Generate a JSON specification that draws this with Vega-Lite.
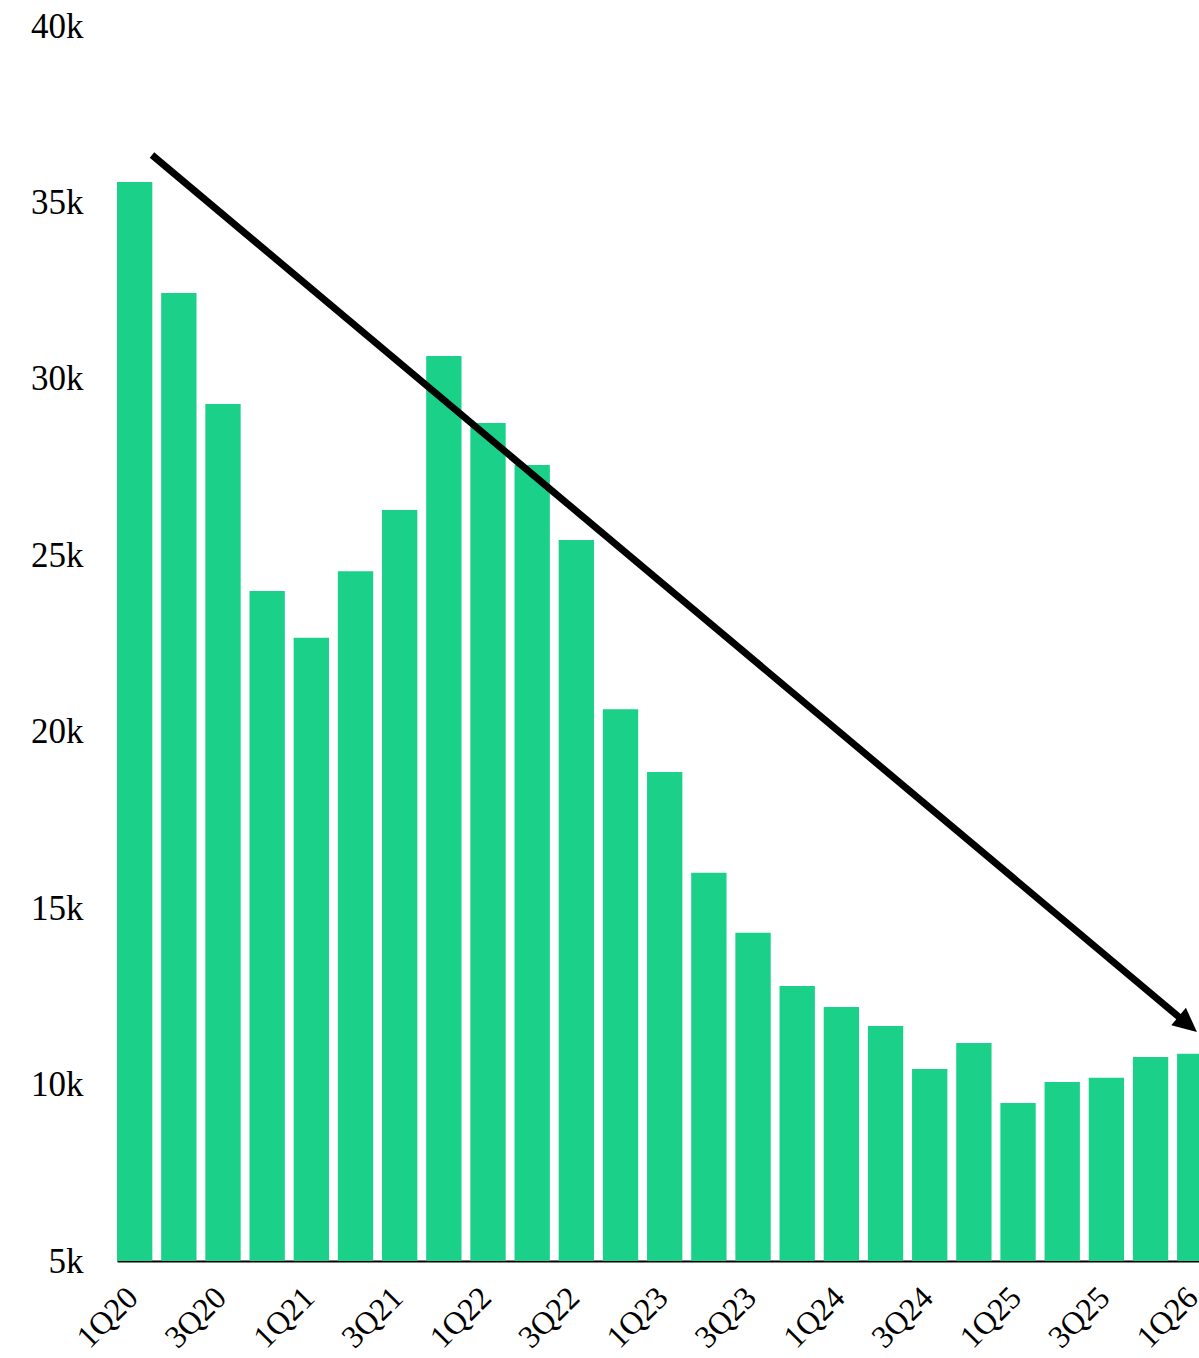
{
  "$schema": "https://vega.github.io/schema/vega-lite/v6.json",
  "width": 1086,
  "height": 1235,
  "autosize": {"type": "none"},
  "padding": {"left": 113, "top": 26, "right": 0, "bottom": 97},
  "background": "white",
  "config": {
    "view": {"stroke": null},
    "font": "Liberation Serif"
  },
  "datasets": {
    "quarters": [
      {"quarter": "1Q20", "units": 35580},
      {"quarter": "2Q20", "units": 32430},
      {"quarter": "3Q20", "units": 29290},
      {"quarter": "4Q20", "units": 23990},
      {"quarter": "1Q21", "units": 22660},
      {"quarter": "2Q21", "units": 24550},
      {"quarter": "3Q21", "units": 26280},
      {"quarter": "4Q21", "units": 30650},
      {"quarter": "1Q22", "units": 28750},
      {"quarter": "2Q22", "units": 27560},
      {"quarter": "3Q22", "units": 25430},
      {"quarter": "4Q22", "units": 20640},
      {"quarter": "1Q23", "units": 18860},
      {"quarter": "2Q23", "units": 16000},
      {"quarter": "3Q23", "units": 14300},
      {"quarter": "4Q23", "units": 12790},
      {"quarter": "1Q24", "units": 12200},
      {"quarter": "2Q24", "units": 11660},
      {"quarter": "3Q24", "units": 10440},
      {"quarter": "4Q24", "units": 11180},
      {"quarter": "1Q25", "units": 9480},
      {"quarter": "2Q25", "units": 10070},
      {"quarter": "3Q25", "units": 10190},
      {"quarter": "4Q25", "units": 10780},
      {"quarter": "1Q26", "units": 10870}
    ],
    "shaft": [
      {"pos": 0.392, "value": 36344},
      {"pos": 23.70, "value": 11855}
    ],
    "head": [
      {"pos": 24.05, "value": 11490}
    ]
  },
  "layer": [
    {
      "data": {"name": "quarters"},
      "mark": {"type": "bar", "color": "#1bd18a", "clip": true},
      "encoding": {
        "x": {
          "field": "quarter",
          "type": "ordinal",
          "sort": null,
          "scale": {"range": [4, 1099.4], "paddingInner": 0.2, "paddingOuter": 0},
          "axis": {
            "title": null,
            "labelAngle": -45,
            "labelAlign": "right",
            "labelBaseline": "middle",
            "labelFont": "Liberation Serif",
            "labelFontSize": 32,
            "labelColor": "#000000",
            "values": ["1Q20", "3Q20", "1Q21", "3Q21", "1Q22", "3Q22", "1Q23", "3Q23", "1Q24", "3Q24", "1Q25", "3Q25", "1Q26"],
            "ticks": false,
            "grid": false,
            "domainColor": "#000000",
            "domainWidth": 2,
            "labelPadding": 31,
            "labelOffset": -2,
            "labelOverlap": false,
            "labelBound": false
          }
        },
        "y": {
          "field": "units",
          "type": "quantitative",
          "scale": {"domain": [5000, 40000], "nice": false, "zero": false},
          "axis": {
            "title": null,
            "values": [5000, 10000, 15000, 20000, 25000, 30000, 35000, 40000],
            "labelExpr": "datum.value / 1000 + 'k'",
            "labelFont": "Liberation Serif",
            "labelFontSize": 35,
            "labelColor": "#000000",
            "domain": false,
            "ticks": false,
            "grid": false,
            "labelPadding": 30
          }
        },
        "y2": {"datum": 5000}
      }
    },
    {
      "data": {"name": "shaft"},
      "mark": {"type": "line", "color": "#000000", "strokeWidth": 7, "strokeCap": "butt"},
      "encoding": {
        "x": {"field": "pos", "type": "quantitative", "scale": {"domain": [-0.4906, 24.096], "nice": false, "zero": false}, "axis": null},
        "y": {"field": "value", "type": "quantitative", "axis": null}
      }
    },
    {
      "data": {"name": "head"},
      "mark": {
        "type": "point",
        "shape": "M0,0L-2,-0.95L-2,0.95Z",
        "filled": true,
        "color": "#000000",
        "opacity": 1,
        "size": 576,
        "angle": 40
      },
      "encoding": {
        "x": {"field": "pos", "type": "quantitative", "scale": {"domain": [-0.4906, 24.096], "nice": false, "zero": false}, "axis": null},
        "y": {"field": "value", "type": "quantitative", "axis": null}
      }
    }
  ],
  "resolve": {"scale": {"x": "independent"}, "axis": {"y": "independent"}}
}
